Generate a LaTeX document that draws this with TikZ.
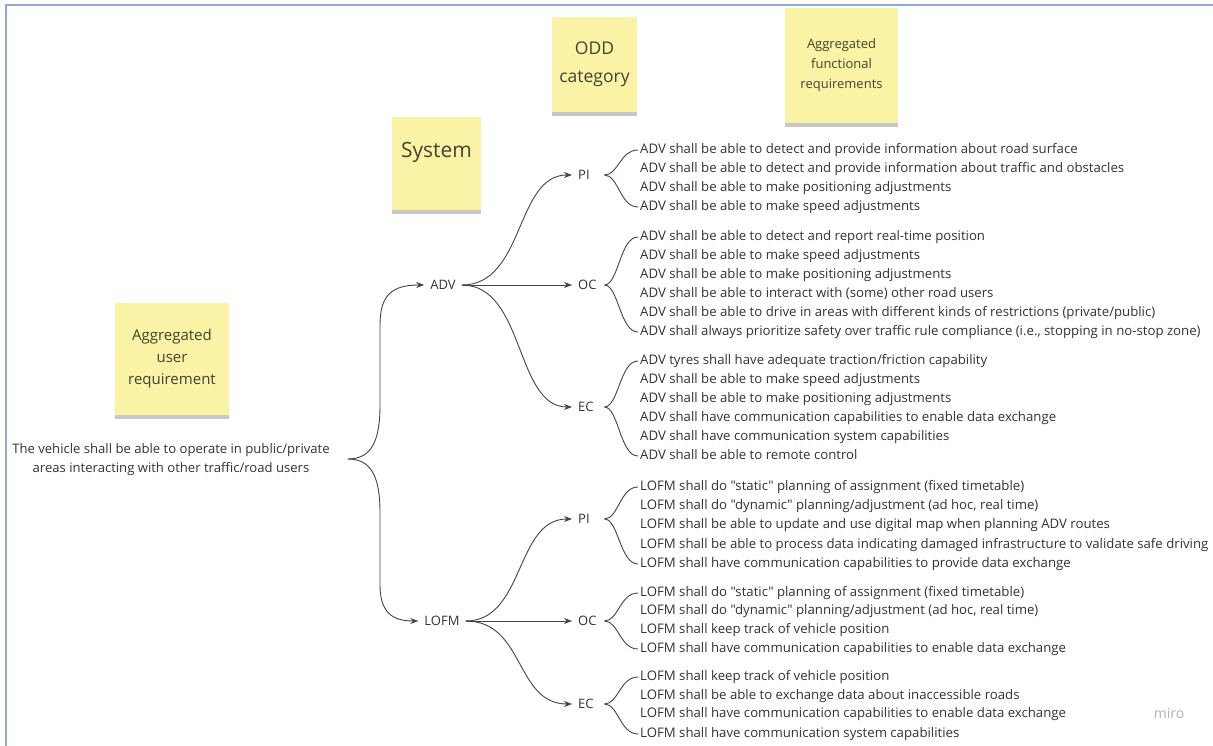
\documentclass[tikz,border=0pt]{standalone}
\usepackage{fontspec}
\setmainfont{Open Sans}
\newfontfamily\osans{Open Sans}
\usetikzlibrary{arrows.meta,shadows}
\definecolor{sticky}{HTML}{FAF3A6}
\definecolor{frameblue}{HTML}{8FA8D6}
\definecolor{txt}{HTML}{333333}
\definecolor{stxt}{HTML}{44432F}
\definecolor{conn}{HTML}{444444}
\begin{document}
\begin{tikzpicture}[x=1pt,y=-1pt,
  note/.style={fill=sticky, draw=none, inner sep=0pt, align=center, text=stxt,
    drop shadow={shadow xshift=0pt, shadow yshift=-4pt, fill=black!55, opacity=.4}},
  req/.style={anchor=west, inner xsep=2pt, inner ysep=0pt, text=txt,
    font=\osans\fontsize{13.2}{15}\selectfont, text height=9.5pt, text depth=3pt},
  sysnode/.style={inner xsep=6pt, inner ysep=2pt, text=txt, font=\osans\fontsize{13}{15}\selectfont},
  oddnode/.style={anchor=west, inner xsep=6pt, inner ysep=2pt, text width=20pt, align=left,
    text=txt, font=\osans\fontsize{13}{15}\selectfont},
  link/.style={draw=conn, line width=0.9pt, -{Stealth[length=8pt,width=6pt]}},
  bracel/.style={draw=conn, line width=0.9pt}
]
\useasboundingbox (0,0) rectangle (1213,746);
\fill[white] (0,0) rectangle (1213,746);
\draw[frameblue, line width=2.5pt] (6,746) -- (6,5) -- (1213,5);

% sticky notes
\node[note, minimum width=85pt, minimum height=95pt, font=\osans\fontsize{17.5}{28}\selectfont] (oddnote) at (594.5,64.5) {ODD\\category};
\node[note, minimum width=113pt, minimum height=115pt, font=\osans\fontsize{13}{20}\selectfont] (afrnote) at (841.5,65.5) {Aggregated\\functional\\requirements};
\node[note, minimum width=89pt, minimum height=93pt, font=\osans\fontsize{21}{24}\selectfont] (sysnote) at (436.5,163.5) {System\\[4pt]\mbox{}};
\node[note, minimum width=114pt, minimum height=112pt, font=\osans\fontsize{15}{22}\selectfont] (aurnote) at (172,359) {Aggregated\\user\\requirement};

% root
\node[text=txt, align=center, inner sep=0pt, font=\osans\fontsize{13.1}{19}\selectfont] (root) at (171,459.5)
  {The vehicle shall be able to operate in public/private\\areas interacting with other traffic/road users};
\coordinate (rt) at (348,459);

% systems
\node[sysnode] (adv) at (443,285) {ADV};
\node[sysnode] (lofm) at (442,621) {LOFM};

\draw[link] (rt) .. controls (372,459) and (380,440) .. (380,405) -- (380,325) .. controls (380,295) and (392,285) .. (adv.west);
\draw[link] (rt) .. controls (372,459) and (380,478) .. (380,513) -- (380,585) .. controls (380,612) and (392,621) .. (lofm.west);

% ODD categories
\node[oddnode] (api) at (572,175) {PI};
\node[oddnode] (aoc) at (572,285) {OC};
\node[oddnode] (aec) at (572,407) {EC};
\node[oddnode] (lpi) at (572,519) {PI};
\node[oddnode] (loc) at (572,621) {OC};
\node[oddnode] (lec) at (572,704) {EC};

\draw[link] (adv.east) .. controls (525,285) and (515,175) .. (api.west);
\draw[link] (adv.east) -- (aoc.west);
\draw[link] (adv.east) .. controls (525,285) and (515,407) .. (aec.west);
\draw[link] (lofm.east) .. controls (525,621) and (515,519) .. (lpi.west);
\draw[link] (lofm.east) -- (loc.west);
\draw[link] (lofm.east) .. controls (525,621) and (515,704) .. (lec.west);

% requirements
\node[req] (r1) at (638,150) {ADV shall be able to detect and provide information about road surface};
\node[req] (r2) at (638,169) {ADV shall be able to detect and provide information about traffic and obstacles};
\node[req] (r3) at (638,188) {ADV shall be able to make positioning adjustments};
\node[req] (r4) at (638,207) {ADV shall be able to make speed adjustments};
\node[req] (r5) at (638,237) {ADV shall be able to detect and report real-time position};
\node[req] (r6) at (638,256) {ADV shall be able to make speed adjustments};
\node[req] (r7) at (638,275) {ADV shall be able to make positioning adjustments};
\node[req] (r8) at (638,294) {ADV shall be able to interact with (some) other road users};
\node[req] (r9) at (638,313) {ADV shall be able to drive in areas with different kinds of restrictions (private/public)};
\node[req] (r10) at (638,332) {ADV shall always prioritize safety over traffic rule compliance (i.e., stopping in no-stop zone)};
\node[req] (r11) at (638,361) {ADV tyres shall have adequate traction/friction capability};
\node[req] (r12) at (638,380) {ADV shall be able to make speed adjustments};
\node[req] (r13) at (638,399) {ADV shall be able to make positioning adjustments};
\node[req] (r14) at (638,418) {ADV shall have communication capabilities to enable data exchange};
\node[req] (r15) at (638,437) {ADV shall have communication system capabilities};
\node[req] (r16) at (638,456) {ADV shall be able to remote control};
\node[req] (r17) at (638,487) {LOFM shall do "static" planning of assignment (fixed timetable)};
\node[req] (r18) at (638,506) {LOFM shall do "dynamic" planning/adjustment (ad hoc, real time)};
\node[req] (r19) at (638,525) {LOFM shall be able to update and use digital map when planning ADV routes};
\node[req] (r20) at (638,545) {LOFM shall be able to process data indicating damaged infrastructure to validate safe driving};
\node[req] (r21) at (638,564) {LOFM shall have communication capabilities to provide data exchange};
\node[req] (r22) at (638,593) {LOFM shall do "static" planning of assignment (fixed timetable)};
\node[req] (r23) at (638,611) {LOFM shall do "dynamic" planning/adjustment (ad hoc, real time)};
\node[req] (r24) at (638,630) {LOFM shall keep track of vehicle position};
\node[req] (r25) at (638,649) {LOFM shall have communication capabilities to enable data exchange};
\node[req] (r26) at (638,677) {LOFM shall keep track of vehicle position};
\node[req] (r27) at (638,696) {LOFM shall be able to exchange data about inaccessible roads};
\node[req] (r28) at (638,714) {LOFM shall have communication capabilities to enable data exchange};
\node[req] (r29) at (638,734) {LOFM shall have communication system capabilities};

% braces to requirements
\foreach \n/\a/\b in {api/r1/r4, aoc/r5/r10, aec/r11/r16, lpi/r17/r21, loc/r22/r25, lec/r26/r29}{
  \draw[bracel] (\n.east) .. controls ([xshift=14pt]\n.east) and ([xshift=-18pt]\a.west) .. (\a.west);
  \draw[bracel] (\n.east) .. controls ([xshift=14pt]\n.east) and ([xshift=-18pt]\b.west) .. (\b.west);
}

\node[text=black!30, font=\osans\fontsize{14}{16}\selectfont] (miro) at (1169,713) {miro};
\end{tikzpicture}
\end{document}
